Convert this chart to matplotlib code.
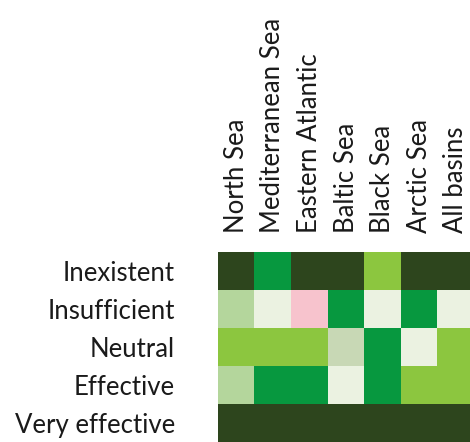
import numpy as np
import matplotlib
matplotlib.use("Agg")
import matplotlib.pyplot as plt
from matplotlib.colors import ListedColormap, BoundaryNorm

plt.rcParams["font.family"] = ["Lato", "DejaVu Sans"]

basins = ["North Sea", "Mediterranean Sea", "Eastern Atlantic",
          "Baltic Sea", "Black Sea", "Arctic Sea", "All basins"]
ratings = ["Inexistent", "Insufficient", "Neutral", "Effective", "Very effective"]

# colour class per cell: 0 pink, 1 very pale, 2 pale green, 3 light green,
# 4 medium green, 5 dark green, 6 greyish pale
inexistent = [5, 4, 5, 5, 3, 5, 5]
insufficient = [2, 1, 0, 4, 1, 4, 1]
neutral = [3, 3, 3, 6, 4, 1, 3]
effective = [2, 4, 4, 1, 4, 3, 3]
very_effective = [5, 5, 5, 5, 5, 5, 5]

class_colors = ["#f7c3cd", "#ebf2e1", "#b4d69c", "#8cc63f",
                "#07983f", "#2d451d", "#c8d8b5"]

grid = np.array([inexistent, insufficient, neutral, effective, very_effective])

cmap = ListedColormap(class_colors)
norm = BoundaryNorm(np.arange(-0.5, len(class_colors) + 0.5), cmap.N)

fig = plt.figure(figsize=(4.7, 4.42), dpi=100)
ax = fig.add_axes([218 / 470, 0, 256 / 470, 190 / 442])
ax.imshow(grid, cmap=cmap, norm=norm, aspect="auto", interpolation="nearest")

ax.set_xticks(range(len(basins)))
ax.set_xticklabels(basins, rotation=90, fontsize=18.5, color="#1a1a1a")
ax.set_yticks(range(len(ratings)))
ax.set_yticklabels(ratings, fontsize=18.5, color="#1a1a1a")
ax.xaxis.tick_top()
ax.tick_params(axis="x", length=0, pad=14)
ax.tick_params(axis="y", length=0, pad=31)
for s in ax.spines.values():
    s.set_visible(False)

fig.savefig("out.png", dpi=100)
